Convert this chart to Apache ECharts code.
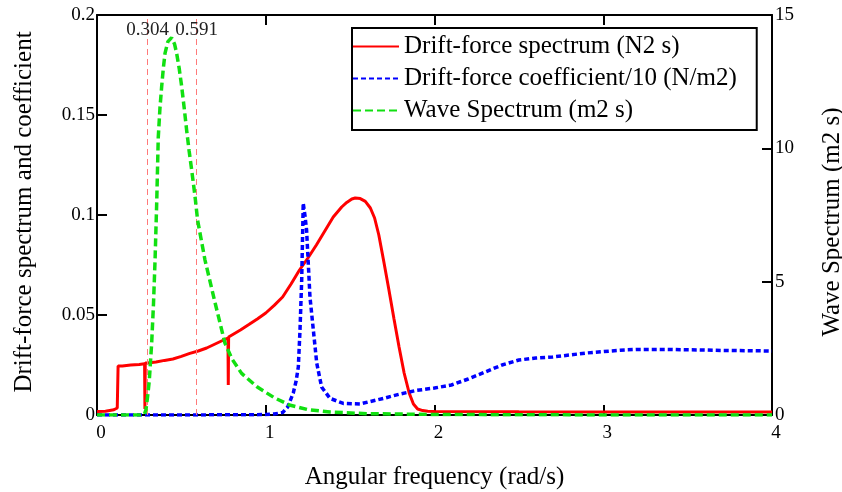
<!DOCTYPE html>
<html>
<head>
<meta charset="utf-8">
<script src="https://cdn.jsdelivr.net/npm/echarts@6/dist/echarts.min.js"></script>
<style>
html,body{margin:0;padding:0;background:#fff;}
#chart{width:842px;height:492px;}
</style>
</head>
<body>
<div id="chart"></div>
<script>
// ---- data ----
var xTicks = [0, 1, 2, 3, 4];
var leftTicks = [0, 0.05, 0.1, 0.15, 0.2];
var rightTicks = [0, 5, 10, 15];
var refLines = [0.304, 0.591];
var refLabels = ['0.304', '0.591'];

// Drift-force spectrum (N2 s) – left axis
var driftX = [0, 0.05, 0.1, 0.12, 0.125, 0.15, 0.2, 0.25, 0.282, 0.284, 0.286, 0.3, 0.35, 0.4, 0.45, 0.5, 0.55, 0.6, 0.65, 0.7, 0.75, 0.776, 0.778, 0.78, 0.8, 0.85, 0.9, 0.95, 1.0, 1.05, 1.1, 1.15, 1.2, 1.25, 1.3, 1.35, 1.4, 1.45, 1.48, 1.51, 1.53, 1.56, 1.59, 1.62, 1.645, 1.67, 1.7, 1.73, 1.76, 1.79, 1.82, 1.85, 1.875, 1.9, 1.93, 1.96, 2.0, 2.5, 3.0, 3.5, 4.0];
var driftY = [0.0018, 0.0019, 0.0026, 0.0035, 0.0245, 0.0245, 0.025, 0.0253, 0.0256, 0.003, 0.026, 0.026, 0.0265, 0.0273, 0.028, 0.0293, 0.0308, 0.032, 0.0335, 0.0355, 0.0375, 0.0385, 0.015, 0.039, 0.040, 0.0425, 0.0452, 0.048, 0.051, 0.0548, 0.059, 0.0655, 0.0725, 0.0785, 0.085, 0.092, 0.099, 0.104, 0.1063, 0.108, 0.1085, 0.1082, 0.1068, 0.1035, 0.0985, 0.09, 0.0765, 0.0625, 0.048, 0.034, 0.021, 0.011, 0.0055, 0.003, 0.0022, 0.0019, 0.0018, 0.0016, 0.0015, 0.0015, 0.0015];

// Drift-force coefficient/10 (N/m2) – left axis
var coefX = [0, 0.5, 1.0, 1.05, 1.1, 1.13, 1.163, 1.18, 1.193, 1.203, 1.213, 1.219, 1.222, 1.232, 1.242, 1.252, 1.262, 1.282, 1.302, 1.331, 1.381, 1.46, 1.558, 1.697, 1.796, 1.894, 2.0, 2.1, 2.2, 2.3, 2.4, 2.5, 2.6, 2.7, 2.8, 2.9, 3.0, 3.1, 3.2, 3.3, 3.4, 3.5, 3.6, 3.7, 3.8, 3.9, 4.0];
var coefY = [0, 0, 0.0002, 0.0005, 0.0012, 0.004, 0.011, 0.017, 0.024, 0.0425, 0.0675, 0.0925, 0.106, 0.1, 0.0925, 0.0758, 0.059, 0.0425, 0.026, 0.014, 0.0083, 0.0058, 0.0055, 0.0083, 0.0105, 0.0123, 0.0135, 0.015, 0.018, 0.0215, 0.025, 0.0275, 0.0285, 0.029, 0.030, 0.031, 0.0317, 0.0324, 0.0328, 0.0328, 0.0328, 0.0326, 0.0325, 0.0323, 0.0322, 0.0321, 0.032];

// Wave Spectrum (m2 s) – right axis
var waveX = [0, 0.1, 0.2, 0.26, 0.28, 0.29, 0.3, 0.31, 0.324, 0.335, 0.344, 0.354, 0.363, 0.373, 0.383, 0.393, 0.403, 0.42, 0.442, 0.46, 0.472, 0.487, 0.502, 0.517, 0.531, 0.546, 0.561, 0.581, 0.596, 0.64, 0.7, 0.758, 0.8, 0.857, 0.95, 1.05, 1.14, 1.25, 1.38, 1.6, 2.0, 2.5, 3.0, 3.5, 4.0];
var waveY = [0, 0, 0, 0, 0.02, 0.19, 0.7, 1.3, 2.7, 4.2, 5.8, 8.0, 10.4, 11.5, 12.3, 13.0, 13.56, 14.0, 14.15, 13.9, 13.56, 13.0, 12.31, 11.5, 10.69, 9.9, 9.19, 8.19, 7.31, 5.81, 4.2, 2.7, 2.1, 1.56, 1.05, 0.65, 0.375, 0.2, 0.11, 0.05, 0.02, 0.01, 0.0, 0.0, 0.0];

function zip(xs, ys) { return xs.map(function (x, i) { return [x, ys[i]]; }); }

var FONT = 'Liberation Serif';
var chart = echarts.init(document.getElementById('chart'), null, {renderer: 'canvas'});

var axisLineStyle = {color: '#000', width: 2};
var tickStyle = {show: true, inside: true, length: 10, lineStyle: {color: '#000', width: 2}};
var labelStyle = {color: '#000', fontFamily: FONT, fontSize: 19};
var legendText = {color: '#000', fontFamily: FONT, fontSize: 25};
var refLineStyle = {color: '#ff7a7a', type: [6, 4], width: 1};

chart.setOption({
  backgroundColor: '#fff',
  animation: false,
  textStyle: {fontFamily: FONT},
  grid: {left: 97, right: 70, top: 15, bottom: 77, containLabel: false, outerBoundsMode: 'none'},
  legend: {
    left: 352, top: 28,
    orient: 'vertical',
    backgroundColor: '#fff',
    borderColor: '#000', borderWidth: 2, borderRadius: 0,
    padding: [6, 20, 7, 0],
    itemWidth: 46, itemHeight: 14, itemGap: 7,
    itemStyle: {opacity: 0},
    textStyle: legendText,
    data: [
      {name: 'Drift-force spectrum (N2 s)', textStyle: legendText},
      {name: 'Drift-force coefficient/10 (N/m2)', textStyle: legendText},
      {name: 'Wave Spectrum (m2 s)', textStyle: legendText}
    ]
  },
  xAxis: [{
    type: 'value', min: 0, max: 4, interval: 1,
    axisLine: {show: true, onZero: false, lineStyle: axisLineStyle},
    axisTick: tickStyle,
    axisLabel: Object.assign({margin: 9, padding: [0, 0, 0, 8], formatter: function (v) { return xTicks.indexOf(v) >= 0 ? String(v) : ''; }}, labelStyle),
    splitLine: {show: false},
    name: 'Angular frequency (rad/s)', nameLocation: 'middle', nameGap: 50,
    nameTextStyle: {color: '#000', fontFamily: FONT, fontSize: 25}
  }, {
    type: 'value', min: 0, max: 4, interval: 1, position: 'top',
    axisLine: {show: true, onZero: false, lineStyle: axisLineStyle},
    axisTick: tickStyle,
    axisLabel: {show: false},
    splitLine: {show: false}
  }],
  yAxis: [{
    type: 'value', min: 0, max: 0.2, interval: 0.05, position: 'left',
    axisLine: {show: true, onZero: false, lineStyle: axisLineStyle},
    axisTick: tickStyle,
    axisLabel: Object.assign({margin: 2, formatter: function (v) { return leftTicks.indexOf(+v.toFixed(2)) >= 0 ? String(+v.toFixed(2)) : ''; }}, labelStyle),
    splitLine: {show: false},
    name: 'Drift-force spectrum and coefficient', nameLocation: 'middle', nameGap: 60, nameRotate: 90,
    nameTextStyle: {color: '#000', fontFamily: FONT, fontSize: 25, padding: [0, 0, 0, 6]}
  }, {
    type: 'value', min: 0, max: 15, interval: 5, position: 'right',
    axisLine: {show: true, onZero: false, lineStyle: axisLineStyle},
    axisTick: tickStyle,
    axisLabel: Object.assign({margin: 3, formatter: function (v) { return rightTicks.indexOf(v) >= 0 ? String(v) : ''; }}, labelStyle),
    splitLine: {show: false},
    name: 'Wave Spectrum (m2 s)', nameLocation: 'middle', nameGap: 48, nameRotate: 90,
    nameTextStyle: {color: '#000', fontFamily: FONT, fontSize: 25, padding: [0, 14, 0, 0]}
  }],
  series: [{
    name: 'Drift-force spectrum (N2 s)', type: 'line', xAxisIndex: 0, yAxisIndex: 0,
    data: zip(driftX, driftY), symbol: 'none', smooth: false,
    lineStyle: {color: '#ff0000', width: 3},
    itemStyle: {color: '#ff0000'},
    z: 3,
    markLine: {
      silent: true, symbol: 'none', animation: false,
      lineStyle: refLineStyle,
      label: {show: true, position: 'end', distance: -25, color: '#222', fontFamily: FONT, fontSize: 19,
        formatter: function (p) { return p.name; }},
      data: refLines.map(function (v, i) { return {xAxis: v, name: refLabels[i], lineStyle: refLineStyle}; })
    }
  }, {
    name: 'Drift-force coefficient/10 (N/m2)', type: 'line', xAxisIndex: 0, yAxisIndex: 0,
    data: zip(coefX, coefY), symbol: 'none', smooth: false,
    lineStyle: {color: '#0000ff', width: 3.5, type: [5, 3], cap: 'butt'},
    itemStyle: {color: '#0000ff'},
    z: 4
  }, {
    name: 'Wave Spectrum (m2 s)', type: 'line', xAxisIndex: 0, yAxisIndex: 1,
    data: zip(waveX, waveY), symbol: 'none', smooth: false,
    lineStyle: {color: '#11e011', width: 3.5, type: [8, 4], cap: 'butt'},
    itemStyle: {color: '#11e011'},
    z: 5
  }]
});
</script>
</body>
</html>
